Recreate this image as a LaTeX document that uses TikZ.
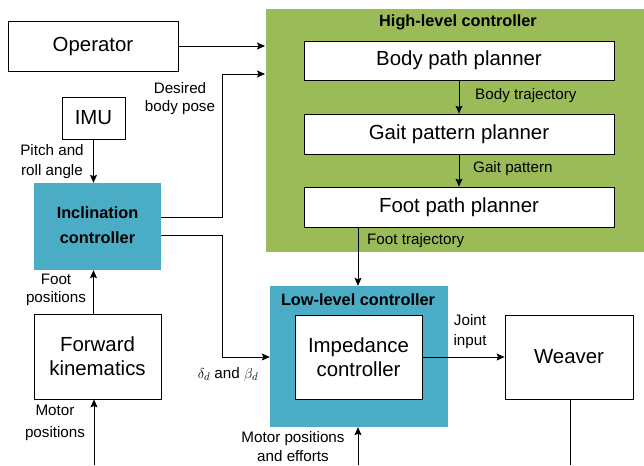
\documentclass[tikz,border=0pt]{standalone}
\usepackage{fontspec}
\setmainfont{Liberation Sans}
\usetikzlibrary{arrows.meta,calc}
\definecolor{hlgreen}{HTML}{9BBB59}
\definecolor{llteal}{HTML}{4BACC6}
\begin{document}
\begin{tikzpicture}[x=1pt,y=-1pt,
  box/.style={draw=black,line width=0.8pt,fill=white,inner sep=0pt,align=center,font=\fontsize{20.4}{24}\selectfont},
  panel/.style={draw=none,inner sep=0pt},
  lbl/.style={inner sep=0pt,align=center,font=\fontsize{15.2}{19}\selectfont},
  ttl/.style={inner sep=0pt,align=center,font=\bfseries\fontsize{16.3}{25}\selectfont},
  conn/.style={line width=0.8pt,-{Stealth[length=8pt,width=7pt,inset=1.5pt]}},
  wire/.style={line width=0.8pt}]
\useasboundingbox (0,0) rectangle (644,465);
% panels
\node[panel,fill=hlgreen,minimum width=378,minimum height=243] (high) at (455,130.5) {};
\node[panel,fill=llteal,minimum width=178,minimum height=141] (low) at (359,356.5) {};
\node[panel,fill=llteal,minimum width=127,minimum height=87] (incl) at (97.5,226.5) {};
\node[ttl] (inclt) at (97.5,225) {Inclination\\controller};
\node[ttl] (hight) at (458,22) {High-level controller};
\node[ttl] (lowt) at (358,300) {Low-level controller};
% boxes
\node[box,minimum width=170,minimum height=50] (op) at (93,46) {Operator};
\node[box,minimum width=63,minimum height=42] (imu) at (93.5,118) {IMU};
\node[box,minimum width=127,minimum height=85] (fk) at (97.5,356.5) {Forward\\kinematics};
\node[box,minimum width=310,minimum height=39] (body) at (459,60.5) {Body path planner};
\node[box,minimum width=310,minimum height=40] (gait) at (459,134) {Gait pattern planner};
\node[box,minimum width=310,minimum height=40] (foot) at (459,207) {Foot path planner};
\node[box,minimum width=127,minimum height=84] (imp) at (358.5,357) {Impedance\\controller};
\node[box,minimum width=128,minimum height=84] (weaver) at (569,357) {Weaver};
% free ends
\coordinate (opin) at (265,46);
\coordinate (posein) at (265,74);
\coordinate (motfk) at (94,465);
\coordinate (motimp) at (358,465);
\coordinate (wout) at (570,465);
% connectors
\draw[conn] (op.east) -- (opin);
\draw[conn] ($(incl.east)+(0,-9.5)$) -| (222,74) -- (posein);
\draw[conn] ($(incl.east)+(0,8.5)$) -| (222,357) -- (low.west |- 0,357);
\draw[conn] (imu.south) -- (imu.south |- incl.north);
\draw[conn] (fk.north -| imu.south) -- (imu.south |- incl.south);
\draw[conn] (motfk) -- (motfk |- fk.south);
\draw[conn] (body.south) -- (gait.north);
\draw[conn] (gait.south) -- (foot.north);
\draw[conn] (motimp |- foot.south) -- (motimp |- low.north);
\draw[conn] (imp.east) -- (weaver.west);
\draw[wire] (wout |- weaver.south) -- (wout);
\draw[conn] (motimp) -- (motimp |- low.south);
% labels
\node[lbl,font=\fontsize{15.2}{20}\selectfont] (l1) at (52,162) {Pitch and\\roll angle};
\node[lbl,font=\fontsize{15.2}{18}\selectfont] (l2) at (180,99) {Desired\\body pose};
\node[lbl,anchor=west] (l3) at (475,96) {Body trajectory};
\node[lbl,anchor=west] (l4) at (473,169) {Gait pattern};
\node[lbl,anchor=west] (l5) at (367,241) {Foot trajectory};
\node[lbl,font=\fontsize{15.2}{18}\selectfont] (l6) at (56,290) {Foot\\positions};
\node[lbl,font=\fontsize{15.2}{22}\selectfont] (l7) at (55,423) {Motor\\positions};
\node[lbl] (l8) at (228,374) {$\delta_{d}$ and $\beta_{d}$};
\node[lbl] (l9) at (293,446.5) {Motor positions\\and efforts};
\node[lbl,font=\fontsize{15.2}{20}\selectfont] (l10) at (470,332) {Joint\\input};
\end{tikzpicture}
\end{document}
